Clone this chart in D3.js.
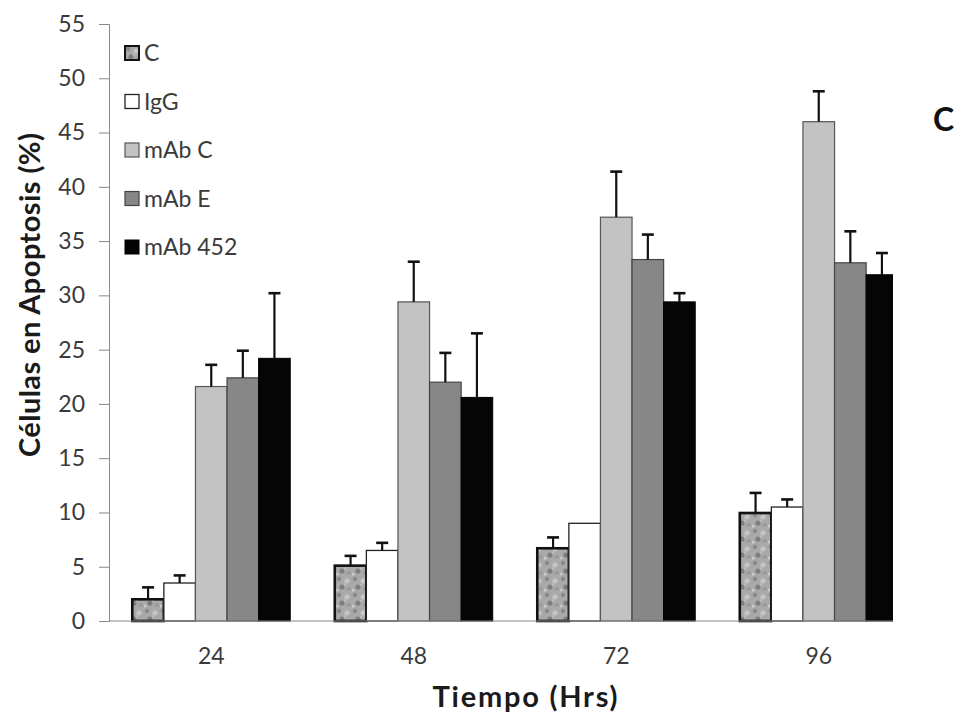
<!DOCTYPE html>
<html>
<head>
<meta charset="utf-8">
<script src="https://cdnjs.cloudflare.com/ajax/libs/d3/7.8.5/d3.min.js"></script>
<style>
  body { margin: 0; background: #fff; }
  text { font-family: Lato, "Open Sans", sans-serif; }
</style>
</head>
<body>
<div id="chart"></div>
<script>
var width = 955, height = 717;

var hours = ["24", "48", "72", "96"];
var series = ["C", "IgG", "mAb C", "mAb E", "mAb 452"];
// mean per series, one value per time point
var valC     = [2.0, 5.1, 6.7, 9.95];
var valIgG   = [3.5, 6.5, 9.0, 10.5];
var valMabC  = [21.6, 29.4, 37.2, 46.0];
var valMabE  = [22.4, 22.0, 33.3, 33.0];
var valMab452 = [24.2, 20.6, 29.4, 31.9];
// error (upper bar) per series
var errC     = [1.1, 0.9, 1.0, 1.85];
var errIgG   = [0.7, 0.7, 0, 0.7];
var errMabC  = [2.0, 3.7, 4.2, 2.8];
var errMabE  = [2.5, 2.7, 2.3, 2.9];
var errMab452 = [6.0, 5.9, 0.8, 2.0];
var yTicks = [0, 5, 10, 15, 20, 25, 30, 35, 40, 45, 50, 55];

var values = [valC, valIgG, valMabC, valMabE, valMab452];
var errors = [errC, errIgG, errMabC, errMabE, errMab452];

var fills = ["url(#mottled)", "#ffffff", "#c3c3c3", "#878787", "#050505"];
var strokes = ["#111", "#222", "#555", "#444", "#000"];
var strokeW = [2.6, 1.3, 1.2, 1.2, 1];

var data = [];
hours.forEach(function(h, i) {
  series.forEach(function(s, j) {
    data.push({hour: h, series: s, idx: j, value: values[j][i], err: errors[j][i]});
  });
});

var svg = d3.select("#chart").append("svg")
    .attr("width", width)
    .attr("height", height);

var defs = svg.append("defs");
var pat = defs.append("pattern")
    .attr("id", "mottled")
    .attr("patternUnits", "userSpaceOnUse")
    .attr("width", 16).attr("height", 16);
pat.append("rect").attr("width", 16).attr("height", 16).attr("fill", "#a9a9a9");
var spots = [[3, 3, 2.2, "#8a8a8a"], [11, 5, 2.5, "#c6c6c6"], [6, 11, 2.6, "#7d7d7d"],
             [13, 13, 2, "#9a9a9a"], [1, 14, 1.6, "#c9c9c9"], [9, 9, 1.4, "#b8b8b8"]];
spots.forEach(function(p) {
  pat.append("circle").attr("cx", p[0]).attr("cy", p[1]).attr("r", p[2]).attr("fill", p[3]);
});

defs.append("clipPath").attr("id", "plotclip")
  .append("rect").attr("x", 0).attr("y", 0).attr("width", 893).attr("height", height);

var x = d3.scaleBand()
    .domain(hours)
    .range([110, 920])
    .paddingInner(0.22)
    .paddingOuter(0.11);

var xs = d3.scaleBand()
    .domain(series)
    .range([0, x.bandwidth()]);

var y = d3.scaleLinear()
    .domain([0, 55])
    .range([621, 24]);

// Y axis
var yAxis = svg.append("g")
    .attr("transform", "translate(109,0)")
    .call(d3.axisLeft(y).tickValues(yTicks).tickSize(10).tickPadding(14));
yAxis.select(".domain").attr("stroke", "#8a8a8a");
yAxis.selectAll(".tick line").attr("stroke", "#8a8a8a");
yAxis.selectAll(".tick text")
    .attr("fill", "#3a3a3a")
    .style("font-size", "23px")
    .style("font-family", "Lato, sans-serif");

// bars
var plot = svg.append("g").attr("clip-path", "url(#plotclip)");

plot.selectAll("rect.bar")
  .data(data)
  .enter().append("rect")
    .attr("class", "bar")
    .attr("x", function(d) { return x(d.hour) + xs(d.series); })
    .attr("y", function(d) { return y(d.value); })
    .attr("width", xs.bandwidth())
    .attr("height", function(d) { return y(0) - y(d.value); })
    .attr("fill", function(d) { return fills[d.idx]; })
    .attr("stroke", function(d) { return strokes[d.idx]; })
    .attr("stroke-width", function(d) { return strokeW[d.idx]; });

// error bars
var eb = plot.selectAll("g.err")
  .data(data.filter(function(d) { return d.err > 0; }))
  .enter().append("g")
    .attr("class", "err");
eb.append("line")
    .attr("x1", function(d) { return x(d.hour) + xs(d.series) + xs.bandwidth() / 2; })
    .attr("x2", function(d) { return x(d.hour) + xs(d.series) + xs.bandwidth() / 2; })
    .attr("y1", function(d) { return y(d.value); })
    .attr("y2", function(d) { return y(d.value + d.err); })
    .attr("stroke", "#111").attr("stroke-width", 2.2);
eb.append("line")
    .attr("x1", function(d) { return x(d.hour) + xs(d.series) + xs.bandwidth() / 2 - 6; })
    .attr("x2", function(d) { return x(d.hour) + xs(d.series) + xs.bandwidth() / 2 + 6; })
    .attr("y1", function(d) { return y(d.value + d.err); })
    .attr("y2", function(d) { return y(d.value + d.err); })
    .attr("stroke", "#111").attr("stroke-width", 2.6);

// x axis
var xAxis = svg.append("g")
    .attr("transform", "translate(0," + y(0) + ")")
    .call(d3.axisBottom(x).tickSize(0).tickPadding(27));
xAxis.select(".domain").attr("stroke", "#8a8a8a").attr("d", "M109,0H893");
xAxis.selectAll(".tick text")
    .attr("fill", "#3a3a3a")
    .style("font-size", "23px")
    .style("font-family", "Lato, sans-serif");

// axis titles
svg.append("text")
    .attr("x", 525).attr("y", 707)
    .attr("text-anchor", "middle")
    .attr("fill", "#1a1a1a")
    .attr("textLength", 185).attr("lengthAdjust", "spacing")
    .style("font-size", "29px").style("font-weight", "bold")
    .text("Tiempo (Hrs)");

svg.append("text")
    .attr("transform", "translate(40,295) rotate(-90)")
    .attr("text-anchor", "middle")
    .attr("fill", "#1a1a1a")
    .attr("textLength", 324).attr("lengthAdjust", "spacing")
    .style("font-size", "29px").style("font-weight", "bold")
    .text("Células en Apoptosis (%)");

// panel letter
svg.append("text")
    .attr("x", 933).attr("y", 131)
    .attr("fill", "#111")
    .style("font-size", "32px").style("font-weight", "bold")
    .text("C");

// legend
var legend = svg.selectAll("g.legend")
  .data(series)
  .enter().append("g")
    .attr("class", "legend")
    .attr("transform", function(d, i) { return "translate(125," + (46 + i * 48.5) + ")"; });
legend.append("rect")
    .attr("width", 14).attr("height", 14)
    .attr("fill", function(d, i) { return fills[i]; })
    .attr("stroke", function(d, i) { return strokes[i]; })
    .attr("stroke-width", function(d, i) { return Math.min(strokeW[i], 2); });
legend.append("text")
    .attr("x", 19).attr("y", 15)
    .attr("fill", "#3a3a3a")
    .style("font-size", "23px")
    .text(function(d) { return d; });
</script>
</body>
</html>
